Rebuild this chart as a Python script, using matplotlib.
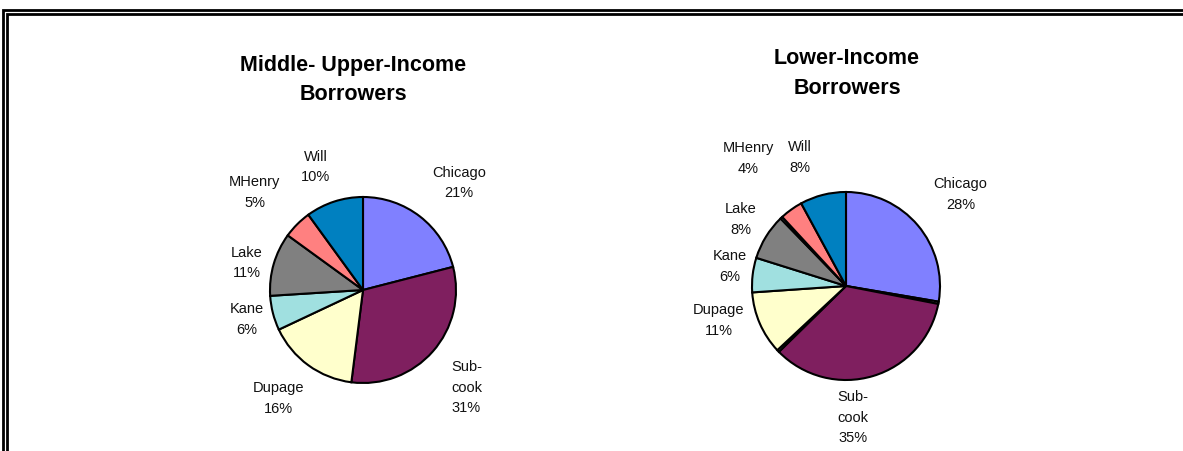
import matplotlib
matplotlib.use("Agg")
import matplotlib.pyplot as plt
import numpy as np
from matplotlib.lines import Line2D

plt.rcParams['font.family'] = ['Liberation Sans', 'DejaVu Sans']

# data
counties = ["Chicago", "Sub-\ncook", "Dupage", "Kane", "Lake", "MHenry", "Will"]
colors = ["#8080FF", "#7F1F5F", "#FFFFCC", "#A0E0E0", "#808080", "#FF8080", "#0080C0"]

mid_upper_pct = [21, 31, 16, 6, 11, 5, 10]

# lower income has three tiny unlabeled slivers between some slices
lower_names = ["Chicago", "", "Sub-\ncook", "", "Dupage", "Kane", "Lake", "", "MHenry", "Will"]
lower_pct = [28, 0.4, 35, 0.4, 11, 6, 8, 0.4, 4, 8]
lower_colors = ["#8080FF", "#D0D0D0", "#7F1F5F", "#D0D0D0", "#FFFFCC", "#A0E0E0",
                "#808080", "#D0D0D0", "#FF8080", "#0080C0"]

title_1 = "Middle- Upper-Income\nBorrowers"
title_2 = "Lower-Income\nBorrowers"

W, H = 1183, 451
fig = plt.figure(figsize=(W / 100, H / 100), dpi=100)


def pie_axes(cx, cy, half=220):
    # square axes in pixel terms around the pie centre
    ax = fig.add_axes([(cx - half) / W, 1 - (cy + half) / H, 2 * half / W, 2 * half / H])
    return ax


def draw_pie(ax, vals, names, cols, label_pos, r, half=220):
    wedges, texts = ax.pie(vals, colors=cols, startangle=90, counterclock=False,
                           wedgeprops=dict(edgecolor="black", linewidth=1.5),
                           labels=None)
    # radius 1 in data -> r pixels
    lim = half / r
    ax.set_xlim(-lim, lim)
    ax.set_ylim(-lim, lim)
    ax.set_aspect("equal")
    ax.axis("off")
    total = sum(vals)
    j = 0
    for w, v, nm in zip(wedges, vals, names):
        if nm == "":
            continue
        theta = np.deg2rad((w.theta1 + w.theta2) / 2)
        dist, dang = label_pos[j]
        theta += np.deg2rad(dang)
        x, y = dist * np.cos(theta), dist * np.sin(theta)
        ax.text(x, y, "%s\n%d%%" % (nm, round(v / total * 100)),
                ha="center", va="center", fontsize=10.5, color="#111111",
                linespacing=1.6, clip_on=False)
        j += 1


# label placement (distance in radii, angle nudge in degrees)
pos_1 = [(1.545, -4), (1.53, -2), (1.48, -2), (1.286, 0), (1.28, 3), (1.57, 3), (1.416, 3)]
pos_2 = [(1.56, -1.6), (1.405, -13.6), (1.406, -8.3), (1.254, -2.7), (1.32, -0.6),
         (1.71, 2), (1.45, 5.6)]

ax1 = pie_axes(363, 290)
draw_pie(ax1, mid_upper_pct, counties, colors, pos_1, 93)

ax2 = pie_axes(846, 286)
draw_pie(ax2, lower_pct, lower_names, lower_colors, pos_2, 94)

fig.text(353 / W, 1 - 80 / H, title_1, ha="center", va="center", fontsize=15.5,
         fontweight="bold", linespacing=1.5)
fig.text(847 / W, 1 - 73.5 / H, title_2, ha="center", va="center", fontsize=15.5,
         fontweight="bold", linespacing=1.5)

# double frame, cut off on the right and bottom
for off in (3, 7):
    fig.add_artist(Line2D([off / W, off / W, 1], [0, 1 - (off + 7) / H, 1 - (off + 7) / H],
                          transform=fig.transFigure, color="black", linewidth=2.0,
                          solid_joinstyle="miter"))

fig.savefig("out.png", dpi=100)
